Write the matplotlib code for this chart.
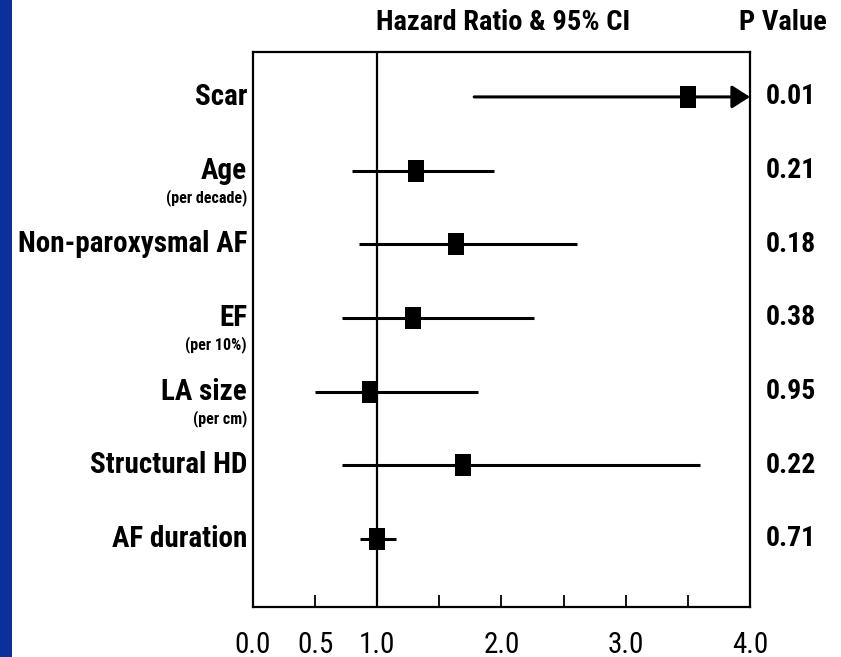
import numpy as np
import matplotlib.pyplot as plt
import matplotlib.transforms as mtransforms
from matplotlib.patches import Rectangle

# data
labels = ["Scar", "Age", "Non-paroxysmal AF", "EF", "LA size", "Structural HD", "AF duration"]
sublabels = ["", "(per decade)", "", "(per 10%)", "(per cm)", "", ""]
hr = [3.5, 1.31, 1.63, 1.29, 0.94, 1.69, 1.00]
ci_low = [1.78, 0.80, 0.85, 0.72, 0.50, 0.72, 0.86]
ci_high = [4.0, 1.94, 2.61, 2.26, 1.81, 3.6, 1.15]
open_ended = [True, False, False, False, False, False, False]
pvals = ["0.01", "0.21", "0.18", "0.38", "0.95", "0.22", "0.71"]
xticks_major = [0.0, 0.5, 1.0, 2.0, 3.0, 4.0]
xticks_minor = [1.5, 2.5, 3.5]

plt.rcParams['font.family'] = ['Liberation Sans Narrow', 'Roboto Condensed', 'Archivo Narrow',
                               'Sofia Sans Condensed', 'Liberation Sans']

fig = plt.figure(figsize=(8.41, 6.57), dpi=100)
ax = fig.add_axes([0.3008, 0.0761, 0.591, 0.8448])

# blue strip at the left edge
fig.add_artist(Rectangle((0, 0), 12 / 841, 1, transform=fig.transFigure,
                         facecolor='#0B309C', edgecolor='none'))

n = len(labels)
ypos = np.arange(n, 0, -1)

# reference line at HR = 1
ax.axvline(1.0, color='black', lw=1.6, zorder=1)

# rectangle marker, taller than wide
rect = [(-8, -11), (8, -11), (8, 11), (-8, 11), (-8, -11)]

for i in range(n):
    if open_ended[i]:
        ax.annotate('', xy=(ci_high[i], ypos[i]), xytext=(ci_low[i], ypos[i]),
                    arrowprops=dict(arrowstyle='-|>,head_length=1.1,head_width=0.7',
                                    lw=2.2, color='black', shrinkA=0, shrinkB=0),
                    annotation_clip=False, zorder=2)
    else:
        ax.plot([ci_low[i], ci_high[i]], [ypos[i], ypos[i]], color='black', lw=2.2,
                solid_capstyle='butt', zorder=2)
    ax.plot(hr[i], ypos[i], marker=rect, markersize=15.8, color='black',
            markeredgewidth=0, zorder=3)

ax.set_xlim(0, 4.0)
ax.set_ylim(0.077, 7.61)

ax.set_xticks(xticks_major)
ax.set_xticklabels(["%.1f" % v for v in xticks_major], fontsize=21)
ax.set_xticks(xticks_minor, minor=True)
ax.tick_params(axis='x', which='both', direction='in', length=9, width=1.3, pad=17)
ax.set_yticks([])

for s in ax.spines.values():
    s.set_linewidth(1.6)

# row labels on the left, p values on the right
side_trans = mtransforms.blended_transform_factory(ax.transAxes, ax.transData)
for i in range(n):
    ax.text(-0.012, ypos[i], labels[i], transform=side_trans, ha='right', va='center',
            fontsize=21, fontweight='bold')
    if sublabels[i]:
        ax.text(-0.012, ypos[i] - 0.36, sublabels[i], transform=side_trans, ha='right',
                va='center', fontsize=11.5, fontweight='bold')
    ax.text(1.082, ypos[i], pvals[i], transform=side_trans, ha='center', va='center',
            fontsize=20, fontweight='bold')

fig.text(503 / 841, 1 - 22 / 657, "Hazard Ratio & 95% CI", ha='center', va='center',
         fontsize=20.5, fontweight='bold')
fig.text(783 / 841, 1 - 22 / 657, "P Value", ha='center', va='center',
         fontsize=20.5, fontweight='bold')

fig.savefig("out.png", dpi=100)
